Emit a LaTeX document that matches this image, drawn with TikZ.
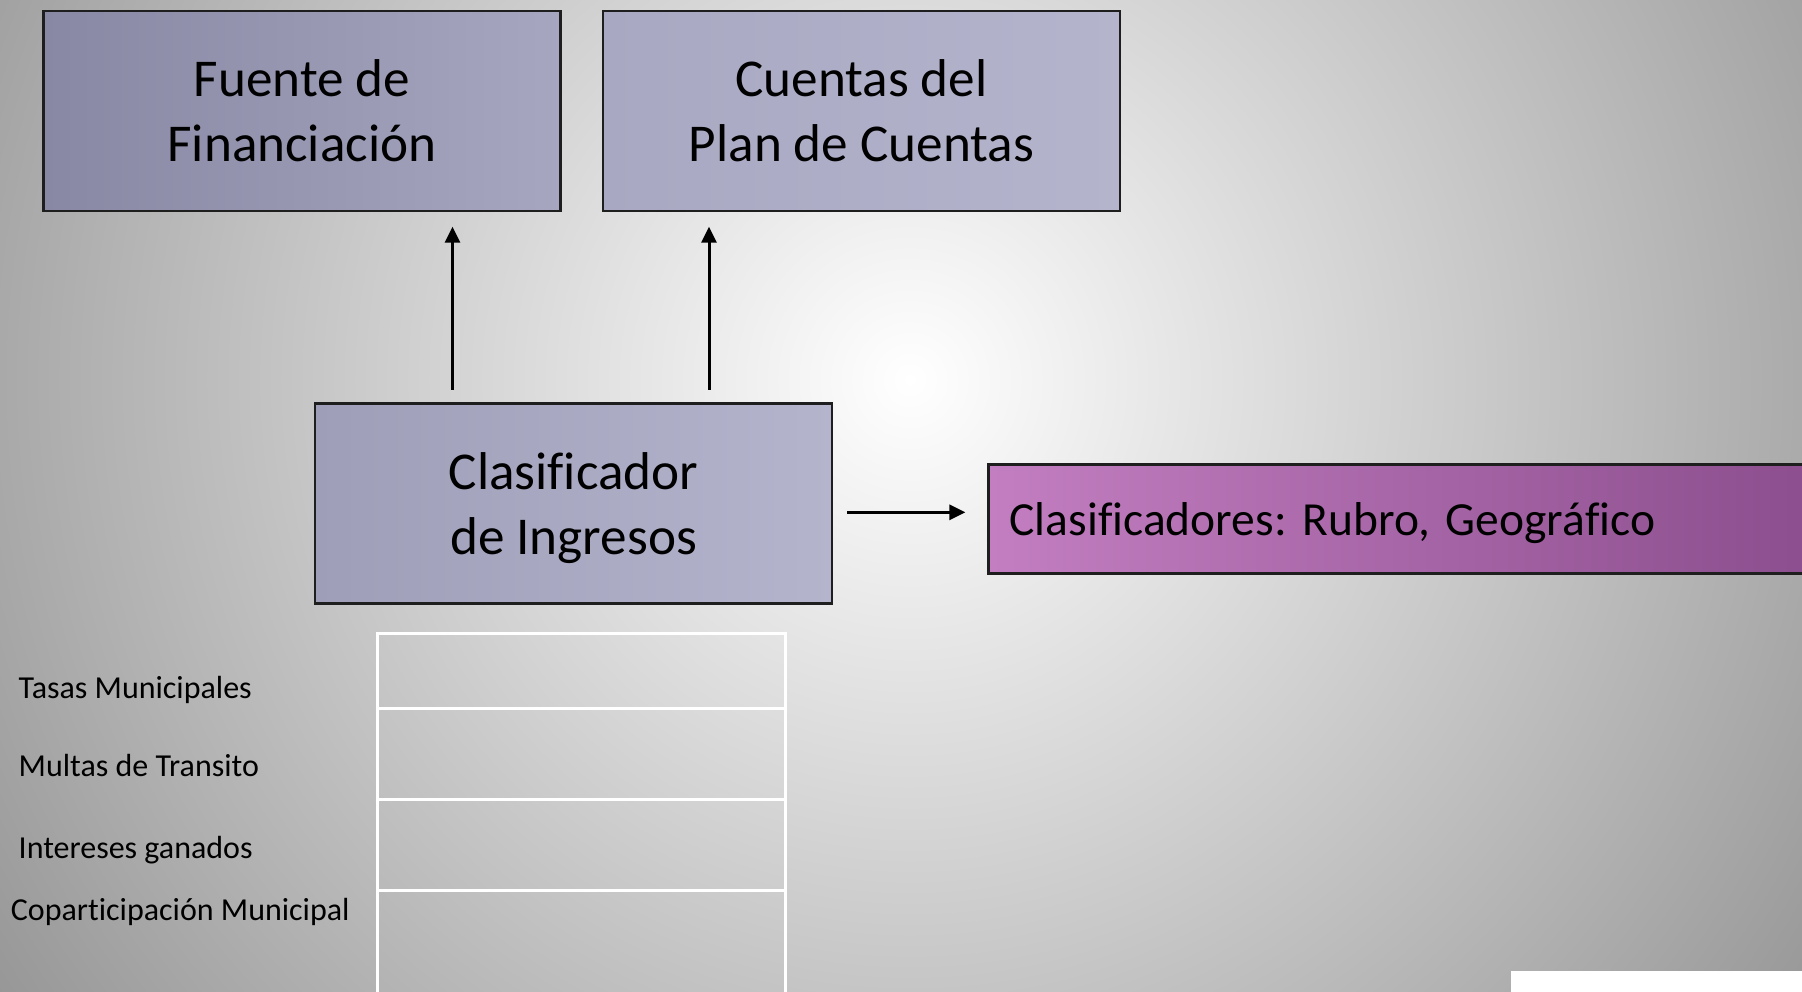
\documentclass[tikz,border=0pt]{standalone}
\usepackage{fontspec}
\setmainfont{Carlito}[Ligatures=NoCommon]
\usetikzlibrary{arrows.meta}
\definecolor{bgout}{RGB}{150,150,150}
\definecolor{boxline}{RGB}{30,30,30}
\definecolor{fuenteL}{RGB}{136,136,164}
\definecolor{fuenteR}{RGB}{166,166,192}
\definecolor{cuentasL}{RGB}{168,168,194}
\definecolor{cuentasR}{RGB}{180,180,205}
\definecolor{clasL}{RGB}{158,158,184}
\definecolor{clasR}{RGB}{180,180,205}
\definecolor{purpL}{RGB}{194,126,192}
\definecolor{purpR}{RGB}{140,78,142}
\begin{document}
\frenchspacing
\begin{tikzpicture}[x=0.5pt,y=-0.5pt,
  box/.style={draw=boxline, line width=1.25pt, minimum width=258.5pt, minimum height=100pt,
    align=center, inner sep=0pt, text depth=0pt, font=\fontsize{26.6pt}{32.5pt}\selectfont},
  arr/.style={-{Triangle[length=8pt,width=7.5pt]}, line width=1.5pt, draw=black},
  lbl/.style={anchor=base west, inner sep=0pt, font=\fontsize{16pt}{19pt}\selectfont},
  cell/.style={draw=white, line width=1.5pt, minimum width=204pt, inner sep=0pt}]
\useasboundingbox (0,0) rectangle (1802,991);
\begin{scope}
  \clip (0,0) rectangle (1802,991);
  \shade[inner color=white, outer color=bgout] (910,380) circle (1110);
\end{scope}
\node[box, left color=fuenteL, right color=fuenteR] (fuente) at (302,111) {Fuente de\\Financiación};
\node[box, left color=cuentasL, right color=cuentasR] (cuentas) at (861.5,111) {Cuentas del\\Plan de Cuentas};
\node[box, left color=clasL, right color=clasR] (clas) at (573.5,503.5) {Clasif\kern0pt icador\\de Ingresos};
\begin{scope}
  \clip (0,0) rectangle (1802,991);
  \node[draw=boxline, line width=1.25pt, left color=purpL, right color=purpR,
    minimum height=54.5pt, text width=391pt, inner xsep=10.5pt, inner ysep=0pt, align=left,
    text height=16pt, text depth=0pt,
    font=\fontsize{23.75pt}{28pt}\selectfont] (purp) at (1400.6,519) {Clasif\kern0pt icadores: Rubro, Geográf\kern0pt ico};
  \node[cell, minimum height=37.5pt] (cell1) at (581.6,670.5) {};
  \node[cell, minimum height=45.5pt] (cell2) at (581.6,753.5) {};
  \node[cell, minimum height=45.5pt] (cell3) at (581.6,844.5) {};
  \node[cell, minimum height=60pt] (cell4) at (581.6,950) {};
  \node[fill=white, minimum width=154.5pt, minimum height=14.5pt, inner sep=0pt] (blank) at (1665.5,985.5) {};
\end{scope}
\draw[arr, shorten <=6.15pt, shorten >=7.2pt] ([xshift=-60.5pt]clas.north) -- ([xshift=-60.5pt]clas.north |- fuente.south);
\draw[arr, shorten <=6.15pt, shorten >=7.2pt] ([xshift=67.75pt]clas.north) -- ([xshift=67.75pt]clas.north |- cuentas.south);
\draw[arr, shorten <=7pt, shorten >=11pt] ([yshift=-4.4pt]clas.east) -- ([yshift=-4.4pt]clas.east -| purp.west);
\node[lbl] (l1) at (18.3,698.3) {Tasas Municipales};
\node[lbl] (l2) at (18.3,776) {Multas de Transito};
\node[lbl] (l3) at (18.3,858) {Intereses ganados};
\node[lbl] (l4) at (10.5,920) {Coparticipación Municipal};
\end{tikzpicture}
\end{document}
